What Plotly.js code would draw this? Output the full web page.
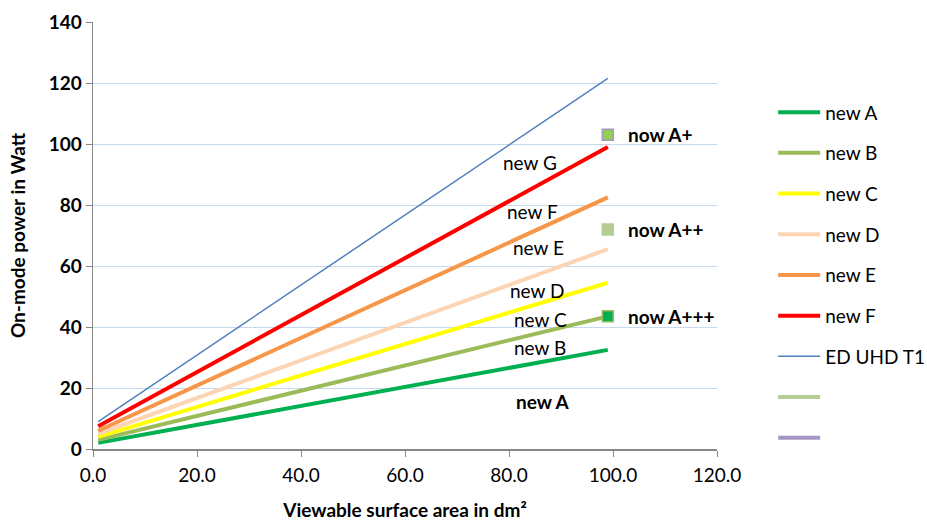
<!DOCTYPE html>
<html>
<head>
<meta charset="utf-8">
<script src="https://cdn.plot.ly/plotly-3.0.1.min.js"></script>
<style>html,body{margin:0;padding:0;background:#fff;}#chart{width:927px;height:521px;}</style>
</head>
<body>
<div id="chart"></div>
<script>
// Series x-range (viewable surface area, dm²)
const xRange = [1, 99];
const seriesNames = ["new A", "new B", "new C", "new D", "new E", "new F", "ED UHD T1"];
const startValues = [2.0, 3.0, 4.0, 5.0, 6.0, 7.5, 9.0];
const endValues = [32.5, 43.5, 54.5, 65.5, 82.5, 99.0, 121.5];
const seriesColors = ["#00b050", "#9bbb59", "#ffff00", "#fcd5b5", "#f79646", "#ff0000", "#4f81bd"];
const seriesWidths = [4, 4, 4, 4, 4, 4, 1.5];

// Current label points
const nowNames = ["now A+", "now A++", "now A+++"];
const nowX = [99, 99, 99];
const nowY = [103, 72, 43.5];
const nowFill = ["#92d050", "#b5cc92", "#00b050"];
const nowBorder = ["#a597c4", "#b5cc92", "#9bbb59"];

// In-plot class labels
const classLabels = ["new G", "new F", "new E", "new D", "new C", "new B", "new A"];
const classLabelX = [84, 84.6, 85.6, 85.4, 86, 86, 86.5];
const classLabelY = [94, 78, 66, 52, 42.6, 33.4, 15.7];
const classLabelBold = [false, false, false, false, false, false, true];

const xTicks = [0, 20, 40, 60, 80, 100, 120];
const yTicks = [0, 20, 40, 60, 80, 100, 120, 140];

const FONT = "Lato, 'Open Sans', sans-serif";
const FS = 19;
const traces = [];
seriesNames.forEach((n, i) => {
  traces.push({
    type: "scatter", mode: "lines", name: n, legendgroup: "g" + i,
    x: xRange, y: [startValues[i], endValues[i]],
    line: {color: seriesColors[i], width: seriesWidths[i]},
    hoverinfo: "skip"
  });
});
// legend-only entries (no visible line since single point)
traces.push({type: "scatter", mode: "lines", name: " ", legendgroup: "g7",
  x: [nowX[1]], y: [nowY[1]], line: {color: "#b5cc92", width: 4}});
traces.push({type: "scatter", mode: "lines", name: " ", legendgroup: "g8",
  x: [nowX[0]], y: [nowY[0]], line: {color: "#a597c4", width: 4}});
nowNames.forEach((n, i) => {
  traces.push({
    type: "scatter", mode: "markers", name: n, showlegend: false,
    x: [nowX[i]], y: [nowY[i]],
    marker: {symbol: "square", size: 11, color: nowFill[i], line: {color: nowBorder[i], width: 1.5}}
  });
});

const annotations = [];
classLabels.forEach((t, i) => {
  annotations.push({x: classLabelX[i], y: classLabelY[i], xref: "x", yref: "y",
    text: classLabelBold[i] ? "<b>" + t + "</b>" : t, showarrow: false,
    font: {family: FONT, size: FS, color: "#000"}});
});
nowNames.forEach((t, i) => {
  annotations.push({x: nowX[i] + 3.5, y: nowY[i], xref: "x", yref: "y", xanchor: "left",
    text: "<b>" + t + "</b>", showarrow: false,
    font: {family: FONT, size: FS, color: "#000"}});
});

const layout = {
  width: 927, height: 521,
  margin: {l: 93, r: 210, t: 22, b: 72, autoexpand: false},
  paper_bgcolor: "#fff", plot_bgcolor: "#fff",
  font: {family: FONT, size: FS, color: "#000"},
  showlegend: true,
  legend: {x: 1.09, xanchor: "left", y: 0.833, yanchor: "top", tracegroupgap: 13,
    itemwidth: 42, font: {family: FONT, size: FS, color: "#000"}, bgcolor: "rgba(0,0,0,0)"},
  xaxis: {range: [0, 120], tickvals: xTicks, ticktext: xTicks.map(v => v.toFixed(1)),
    showgrid: false, zeroline: false, showline: true, linecolor: "#868686", linewidth: 1.5,
    ticks: "outside", ticklen: 6, tickcolor: "#868686", ticklabelstandoff: 3,
    tickfont: {family: FONT, size: FS, color: "#000"},
    title: {text: "<b>Viewable surface area in dm²</b>", font: {family: FONT, size: FS, color: "#000"}, standoff: 20}},
  yaxis: {range: [0, 140], tickvals: yTicks, ticktext: yTicks.map(v => "<b>" + v + "</b>"),
    showgrid: true, gridcolor: "#c6d9f0", gridwidth: 1, zeroline: false,
    showline: true, linecolor: "#868686", linewidth: 1.5,
    ticks: "outside", ticklen: 6, tickcolor: "#868686",
    tickfont: {family: FONT, size: FS, color: "#000"},
    title: {text: "<b>On-mode power in Watt</b>", font: {family: FONT, size: FS, color: "#000"}, standoff: 18}},
  annotations: annotations
};
Plotly.newPlot("chart", traces, layout, {displayModeBar: false, staticPlot: true});
</script>
</body>
</html>
